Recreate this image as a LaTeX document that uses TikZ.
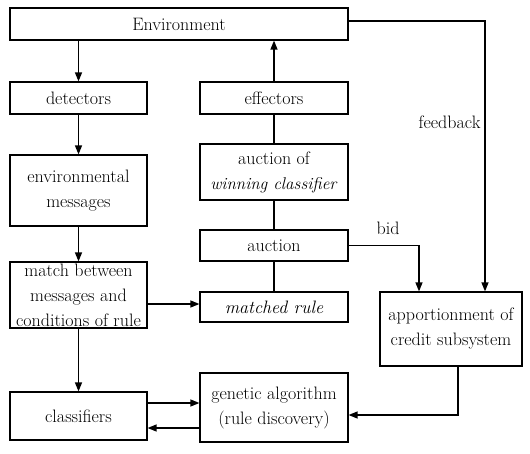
\documentclass[tikz,border=0pt]{standalone}
\usetikzlibrary{arrows.meta}
\begin{document}
\begin{tikzpicture}[x=1pt,y=-1pt,
 box/.style={draw, line width=1.2pt, rectangle, inner sep=0pt, align=center, font=\fontsize{18}{25}\selectfont},
 conn/.style={line width=1.3pt},
 arr/.style={conn, -{Triangle[length=9pt,width=7pt]}},
 lbl/.style={font=\fontsize{18}{25}\selectfont}]
\useasboundingbox[fill=white] (0,0) rectangle (530,453);
\node[box, minimum width=338pt, minimum height=32pt] (env) at (179,24) {Environment};
\node[box, minimum width=137pt, minimum height=32pt] (det) at (78.5,98) {detectors};
\node[box, minimum width=148pt, minimum height=32pt] (eff) at (274,98) {effectors};
\node[box, minimum width=137pt, minimum height=71pt] (envmsg) at (78.5,190.5) {environmental\\messages};
\node[box, minimum width=148pt, minimum height=56pt] (awc) at (274,172) {auction of\\{\fontsize{17}{25}\selectfont\textit{winning classifier}}};
\node[box, minimum width=148pt, minimum height=31pt] (auction) at (274,245.5) {auction};
\node[box, minimum width=137pt, minimum height=66pt] (match) at (78.5,295) {match between\\messages and\\conditions of rule};
\node[box, minimum width=148pt, minimum height=30pt] (matched) at (274,307) {\textit{matched rule}};
\node[box, minimum width=142pt, minimum height=74pt] (apport) at (451,329) {apportionment of\\credit subsystem};
\node[box, minimum width=137pt, minimum height=48pt] (class) at (78.5,416) {classifiers};
\node[box, minimum width=148pt, minimum height=69pt] (ga) at (274,407.5) {genetic algorithm\\(rule discovery)};

\draw[arr] (env.south -| det.north) -- (det.north);
\draw[arr] (det.south) -- (envmsg.north);
\draw[arr] (envmsg.south) -- (match.north);
\draw[arr] (match.south) -- (class.north);
\draw[arr] (eff.north) -- (eff.north |- env.south);
\draw[conn] (eff.south) -- (awc.north);
\draw[conn] (awc.south) -- (auction.north);
\draw[conn] (auction.south) -- (matched.north);
\coordinate (mm) at (147,304);
\draw[arr] (match.east |- mm) -- (matched.west |- mm);

\coordinate (fb) at (485,21);
\draw[arr] (env.east |- fb) -- (fb) -- (fb |- apport.north);
\node[lbl, anchor=east] (fbl) at (484,122) {feedback};

\coordinate (bd) at (419,245.5);
\draw[arr] (auction.east) -- (bd) -- (bd |- apport.north);
\node[lbl] (bidl) at (388,228) {bid};

\coordinate (ag) at (458,415);
\draw[arr] (apport.south -| ag) -- (ag) -- (ga.east |- ag);

\coordinate (c1) at (0,403);
\coordinate (c2) at (0,428);
\draw[arr] (class.east |- c1) -- (ga.west |- c1);
\draw[arr] (ga.west |- c2) -- (class.east |- c2);
\end{tikzpicture}
\end{document}
